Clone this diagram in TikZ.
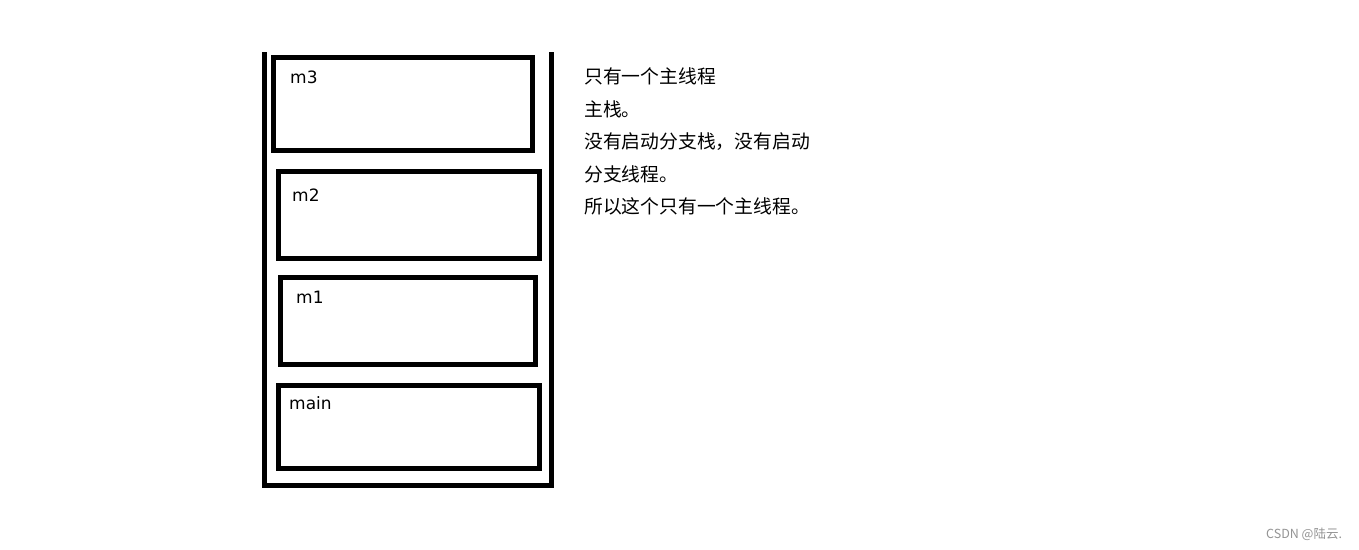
\documentclass[tikz,border=0pt]{standalone}
\usepackage{fontspec}
\setmainfont{DejaVu Sans}
\newfontfamily\cjk{Noto Sans CJK SC}
\begin{document}
\begin{tikzpicture}[x=1pt,y=-1pt,
  framebox/.style={draw=black,line width=5pt,rectangle,inner sep=0pt,outer sep=0pt},
  lbl/.style={anchor=base west,inner sep=0pt,font=\fontsize{17}{19}\selectfont},
  note/.style={anchor=base west,inner sep=0pt,font=\cjk\fontsize{18.8}{20}\selectfont},
  wmark/.style={anchor=base west,inner sep=0pt,text=black!42,font=\cjk\fontsize{12.5}{14}\selectfont}]
\useasboundingbox[fill=white] (0,0) rectangle (1359,549);
% outer stack (open top)
\coordinate (tl) at (264,52);
\coordinate (tr) at (551,52);
\draw[line width=5pt,line join=miter] (tl) |- (551,485.5) -- (tr);
% frames
\node[framebox,minimum width=259pt,minimum height=93pt] (m3) at (403,104) {};
\node[framebox,minimum width=261pt,minimum height=87pt] (m2) at (409,215) {};
\node[framebox,minimum width=255pt,minimum height=87pt] (m1) at (408,321) {};
\node[framebox,minimum width=261pt,minimum height=83pt] (main) at (409,427) {};
% labels
\node[lbl] (lm3) at (290,83) {m3};
\node[lbl] (lm2) at (292,201) {m2};
\node[lbl] (lm1) at (296,303) {m1};
\node[lbl] (lmain) at (289,409) {main};
% notes
\node[note] (t1) at (584,83.5) {只有一个主线程};
\node[note] (t2) at (584,116) {主栈。};
\node[note] (t3) at (584,148.5) {没有启动分支栈，没有启动};
\node[note] (t4) at (584,181) {分支线程。};
\node[note] (t5) at (584,213.5) {所以这个只有一个主线程。};
% watermark
\node[wmark] (wm) at (1266,538) {CSDN @陆云.};
\end{tikzpicture}
\end{document}
